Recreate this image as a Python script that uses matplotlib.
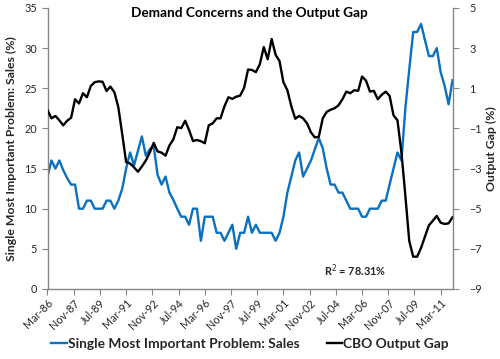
import matplotlib
matplotlib.use('Agg')
import matplotlib.pyplot as plt
import pandas as pd

# NFIB "Single Most Important Problem: Sales" (%), quarterly from Mar-86
sales = [14.0, 16.0, 15.0, 16.0, 14.8, 13.8, 13.0, 13.0, 10.0, 10.0,
         11.0, 11.0, 10.0, 10.0, 10.0, 11.0, 11.0, 10.0, 11.0, 12.5,
         15.0, 17.0, 15.4, 17.2, 19.0, 16.6, 17.4, 17.8, 14.2, 13.0,
         14.0, 12.0, 11.1, 10.0, 9.0, 9.0, 8.0, 10.0, 10.0, 6.0,
         9.0, 9.0, 9.0, 7.0, 7.0, 6.0, 7.0, 8.0, 5.0, 7.0,
         7.0, 9.0, 7.0, 8.0, 7.0, 7.0, 7.0, 7.0, 6.0, 7.0,
         9.0, 12.0, 14.0, 16.0, 17.0, 14.0, 15.0, 16.0, 17.4, 18.8,
         17.5, 15.0, 13.0, 13.0, 12.0, 12.0, 11.0, 10.0, 10.0, 10.0,
         9.0, 9.0, 10.0, 10.0, 10.0, 11.0, 11.0, 13.0, 15.0, 17.0,
         16.0, 22.5, 27.3, 32.0, 32.0, 33.0, 31.0, 29.0, 29.0, 30.0,
         27.0, 25.3, 23.0, 26.0]

# CBO output gap (%), quarterly from Mar-86
gap = [-0.10, -0.50, -0.38, -0.60, -0.85, -0.62, -0.47, 0.45, 0.24, 0.75,
       0.55, 1.11, 1.30, 1.34, 1.32, 0.86, 1.08, 0.80, 0.05, -1.30,
       -2.68, -2.75, -2.94, -3.16, -2.90, -2.60, -2.20, -1.72, -2.15, -2.21,
       -2.36, -1.85, -1.55, -0.94, -0.99, -0.62, -1.08, -1.63, -1.58, -1.64,
       -1.74, -0.85, -0.75, -0.50, -0.50, 0.10, 0.55, 0.47, 0.58, 0.63,
       1.03, 1.93, 1.91, 1.80, 2.20, 3.05, 2.44, 3.45, 2.66, 2.35,
       1.30, 0.90, 0.10, -0.52, -0.38, -0.50, -0.75, -1.20, -1.45, -1.42,
       -0.50, -0.18, -0.07, 0.00, 0.15, 0.45, 0.83, 0.75, 0.90, 0.87,
       1.58, 1.38, 0.83, 0.87, 0.45, 0.67, 0.83, 0.62, -0.35, -0.60,
       -2.20, -4.35, -6.60, -7.39, -7.39, -6.95, -6.39, -5.83, -5.60, -5.36,
       -5.70, -5.76, -5.73, -5.43]

tick_labels = ['Mar-86', 'Nov-87', 'Jul-89', 'Mar-91', 'Nov-92', 'Jul-94',
               'Mar-96', 'Nov-97', 'Jul-99', 'Mar-01', 'Nov-02', 'Jul-04',
               'Mar-06', 'Nov-07', 'Jul-09', 'Mar-11']
left_ticks = [0, 5, 10, 15, 20, 25, 30, 35]
right_ticks = [-9, -7, -5, -3, -1, 1, 3, 5]

dates = pd.date_range('1986-03-01', periods=len(sales), freq='3MS')
tick_dates = pd.to_datetime(tick_labels, format='%b-%y')

plt.rcParams['font.family'] = ['Lato', 'DejaVu Sans']

BLUE = '#0A70C0'
GRAY = '#868686'
TXT = '#262626'

fig = plt.figure(figsize=(5, 3.59), dpi=100)
ax = fig.add_axes([0.095, 0.195, 0.81, 0.783])
ax2 = ax.twinx()

l1, = ax.plot(dates, sales, color=BLUE, lw=1.7, solid_joinstyle='round',
              label='Single Most Important Problem: Sales')
l2, = ax2.plot(dates, gap, color='black', lw=1.7, solid_joinstyle='round',
               label='CBO Output Gap')

ax.set_xlim(dates[0], dates[-1])
ax.set_ylim(0, 35)
ax2.set_ylim(-9, 5)
ax.set_yticks(left_ticks)
ax2.set_yticks(right_ticks)
ax.set_xticks(tick_dates)
ax.set_xticklabels(tick_labels, rotation=45, ha='right', va='top',
                   rotation_mode='anchor')

for a in (ax, ax2):
    for s in a.spines.values():
        s.set_visible(False)
ax.spines['left'].set_visible(True)
ax.spines['bottom'].set_visible(True)
ax2.spines['right'].set_visible(True)
for s in (ax.spines['left'], ax.spines['bottom'], ax2.spines['right']):
    s.set_color(GRAY)
    s.set_linewidth(1.0)

ax.tick_params(axis='both', colors=GRAY, labelcolor=TXT, labelsize=7.8,
               length=4, width=0.8, direction='out')
ax.tick_params(axis='x', pad=2)
ax2.tick_params(axis='y', colors=GRAY, labelcolor=TXT, labelsize=7.8,
                length=4, width=0.8, direction='out', pad=8)

ax.set_ylabel('Single Most Important Problem: Sales (%)', fontsize=8.8,
              fontweight='bold', color=TXT, labelpad=5)
ax2.set_ylabel('Output Gap (%)', fontsize=8.8, fontweight='bold', color=TXT,
               labelpad=3)

fig.text(0.499, 0.964, 'Demand Concerns and the Output Gap', ha='center',
         va='center', fontsize=9.8, fontweight='bold', color='black')
ax.text(0.76, 0.064, 'R$^2$ = 78.31%', transform=ax.transAxes, ha='center',
        va='center', fontsize=7.8, fontweight='bold', color=TXT)

leg = fig.legend(handles=[l1, l2], loc='center', bbox_to_anchor=(0.5, 0.042),
                 ncol=2, frameon=False, fontsize=9.9, handlelength=1.1,
                 handletextpad=0.08, columnspacing=2.0)
for t in leg.get_texts():
    t.set_fontweight('bold')
    t.set_color(TXT)

fig.savefig('out.png', dpi=100)
